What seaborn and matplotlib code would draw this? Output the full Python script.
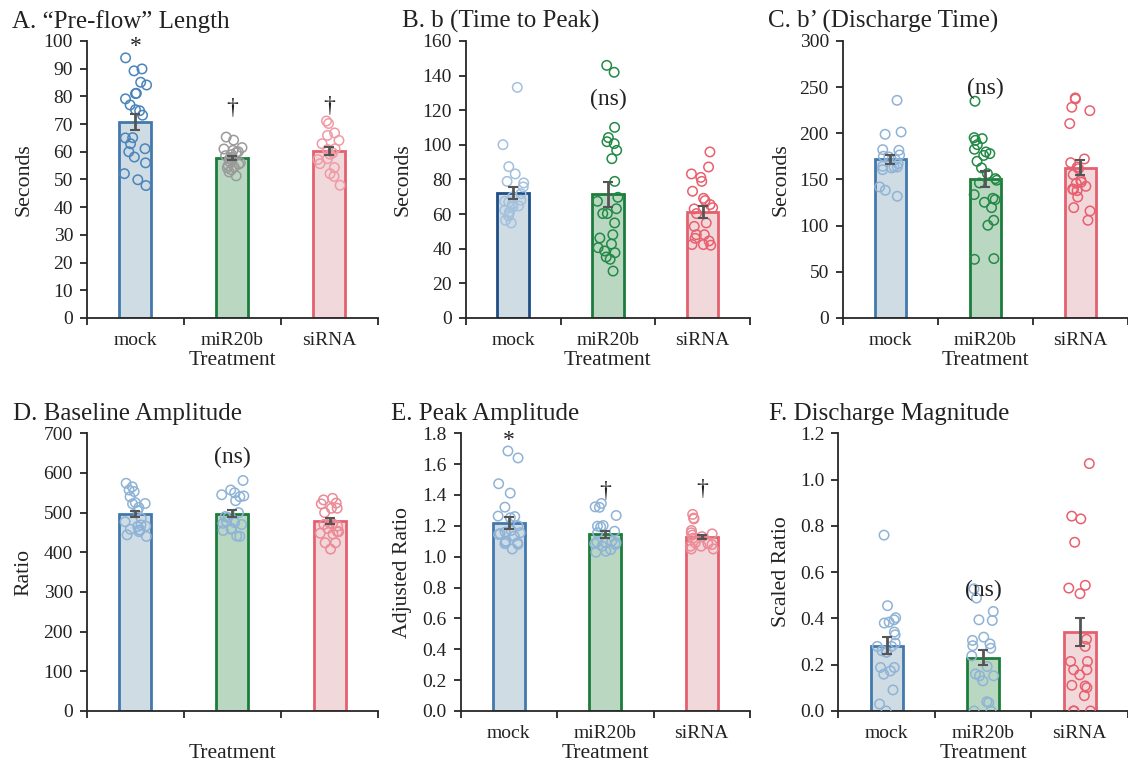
import numpy as np
import pandas as pd
import seaborn as sns
import matplotlib.pyplot as plt

groups = ['mock', 'miR20b', 'siRNA']

# A. "Pre-flow" length (seconds)
a_mock = [93.9, 89.9, 89.2, 85.1, 84.1, 81.1, 81.0, 79.1, 76.9, 75.2, 74.8, 73.2,
          65.1, 65.0, 62.9, 61.1, 60.0, 58.1, 56.0, 52.1, 49.9, 47.8]
a_mir = [65.3, 64.2, 61.5, 61.0, 60.5, 60.0, 59.8, 59.0, 58.6, 58.0, 57.5, 57.0,
         56.5, 56.0, 55.5, 55.0, 54.5, 54.2, 53.5, 52.7, 51.3]
a_sirna = [71.1, 70.2, 66.8, 65.9, 64.1, 62.9, 61.1, 60.8, 60.5, 59.6, 59.1, 57.5,
           57.2, 55.7, 54.3, 52.1, 51.1, 47.9]
a_mean = [70.8, 57.8, 60.3]
a_se = [2.8, 0.8, 1.3]

# B. b (time to peak)
b_mock = [133.2, 100.1, 87.4, 83.2, 78.9, 78.0, 75.7, 71.8, 69.9, 68.0, 67.4, 67.0,
          66.0, 64.7, 64.1, 62.2, 61.4, 60.3, 58.9, 56.4, 54.9]
b_mir = [145.9, 141.9, 110.1, 104.2, 101.8, 100.7, 96.8, 92.0, 78.9, 69.7, 67.4, 63.1,
         60.3, 60.3, 54.9, 48.1, 46.2, 42.7, 40.6, 38.7, 37.7, 35.2, 33.9, 27.1]
b_sirna = [95.9, 87.2, 83.2, 81.2, 78.9, 73.2, 69.1, 67.8, 65.5, 63.7, 63.0, 60.3,
           54.9, 52.9, 48.1, 48.1, 46.0, 44.5, 42.0, 42.4, 42.4]
b_mean = [72.2, 71.4, 61.4]
b_se = [3.7, 7.4, 3.4]

# C. b' (discharge time)
c_mock = [235.7, 201.4, 198.9, 182.3, 181.6, 176.5, 175.1, 174.4, 171.5, 167.1, 164.3,
          163.5, 163.5, 162.5, 160.6, 141.9, 138.3, 131.8]
c_mir = [234.7, 195.3, 194.2, 192.4, 187.7, 182.7, 179.8, 178.0, 176.0, 169.7, 162.5,
         156.3, 150.9, 149.1, 146.2, 133.6, 129.6, 128.2, 125.3, 119.5, 105.8, 100.4,
         64.3, 63.5]
c_sirna = [238.3, 237.2, 228.2, 224.5, 210.5, 172.2, 168.2, 163.5, 161.7, 155.2, 149.1,
           147.0, 145.8, 142.6, 139.7, 139.0, 137.9, 131.0, 119.5, 115.9, 105.8]
c_mean = [171.8, 150.2, 162.8]
c_se = [5.2, 8.8, 8.3]

# D. baseline amplitude (ratio)
d_mock = [574, 565, 557, 553, 540, 525, 523, 522, 513, 505, 486, 477, 469, 466, 465,
          458, 456, 456, 452, 444, 440]
d_mir = [581, 557, 550, 545, 542, 540, 530, 500, 490, 488, 477, 475, 473, 470, 460,
         458, 455, 441, 440]
d_sirna = [536, 532, 524, 522, 511, 511, 500, 473, 472, 470, 466, 460, 452, 452, 448,
           446, 424, 424, 408]
d_mean = [497, 497, 479]
d_se = [8, 9, 8]

# E. peak amplitude (adjusted ratio)
e_mock = [1.685, 1.64, 1.473, 1.412, 1.321, 1.263, 1.26, 1.252, 1.20, 1.17, 1.159,
          1.155, 1.15, 1.144, 1.133, 1.10, 1.094, 1.09, 1.085, 1.08, 1.05]
e_mir = [1.345, 1.323, 1.32, 1.267, 1.202, 1.198, 1.193, 1.165, 1.155, 1.10, 1.094,
         1.09, 1.09, 1.085, 1.079, 1.068, 1.046, 1.035, 1.029]
e_sirna = [1.274, 1.25, 1.245, 1.17, 1.155, 1.148, 1.14, 1.13, 1.12, 1.09, 1.085,
           1.079, 1.068, 1.068, 1.05, 1.05]
e_mean = [1.219, 1.144, 1.126]
e_se = [0.04, 0.024, 0.012]

# F. discharge magnitude (scaled ratio)
f_mock = [0.760, 0.455, 0.403, 0.394, 0.384, 0.38, 0.341, 0.329, 0.293, 0.279, 0.279,
          0.26, 0.254, 0.254, 0.188, 0.188, 0.173, 0.159, 0.091, 0.030, 0.0]
f_mir = [0.528, 0.488, 0.43, 0.394, 0.391, 0.319, 0.305, 0.29, 0.282, 0.271, 0.238,
         0.192, 0.16, 0.152, 0.152, 0.130, 0.040, 0.036, 0.0, 0.0]
f_sirna = [1.069, 0.842, 0.830, 0.729, 0.543, 0.531, 0.507, 0.310, 0.279, 0.214, 0.214,
           0.178, 0.178, 0.156, 0.111, 0.108, 0.101, 0.066, 0.0, 0.0, 0.0]
f_mean = [0.282, 0.231, 0.341]
f_se = [0.036, 0.032, 0.061]

sns.set_style('ticks')
plt.rcParams['font.family'] = ['Liberation Serif', 'DejaVu Serif']

fill_colors = ['#ccdde6', '#b5dcc0', '#f5d4d8']
blue_edge = '#4279ad'
navy_edge = '#1f4e87'
green_edge = '#1c7d3b'
red_edge = '#e5606f'
lt_blue = '#8fb3d6'
pale_blue = '#a3c0dd'
green_pt = '#238a45'
red_pt = '#e8606e'
pink_pt = '#f09aa6'

panels = [
    dict(title='A. \u201cPre-flow\u201d Length', ylabel='Seconds', data=[a_mock, a_mir, a_sirna],
         mean=a_mean, se=a_se, ymax=100, step=10, fmt='%d',
         pts=['#4a84bb', '#9a9a9a', pink_pt], edges=[blue_edge, green_edge, red_edge],
         pos=[0.0771, 0.5838, 0.2580, 0.3626], tx=-0.258, ylx=-0.215, ticks=True,
         notes=[(0, 98, '*'), (1, 75.5, '\u2020'), (2, 76.5, '\u2020')]),
    dict(title='B. b (Time to Peak)', ylabel='Seconds', data=[b_mock, b_mir, b_sirna],
         mean=b_mean, se=b_se, ymax=160, step=20, fmt='%d',
         pts=[pale_blue, green_pt, red_pt], edges=[navy_edge, green_edge, red_edge],
         pos=[0.4129, 0.5838, 0.2520, 0.3626], tx=-0.224, ylx=-0.22, ticks=True,
         notes=[(1, 126, '(ns)')]),
    dict(title='C. b\u2019 (Discharge Time)', ylabel='Seconds', data=[c_mock, c_mir, c_sirna],
         mean=c_mean, se=c_se, ymax=300, step=50, fmt='%d',
         pts=[lt_blue, green_pt, red_pt], edges=[blue_edge, green_edge, red_edge],
         pos=[0.7471, 0.5838, 0.2529, 0.3626], tx=-0.263, ylx=-0.215, ticks=True,
         notes=[(1, 249, '(ns)')]),
    dict(title='D. Baseline Amplitude', ylabel='Ratio', data=[d_mock, d_mir, d_sirna],
         mean=d_mean, se=d_se, ymax=700, step=100, fmt='%d',
         pts=[lt_blue, lt_blue, '#ec8a96'], edges=[blue_edge, green_edge, red_edge],
         pos=[0.0769, 0.0694, 0.2583, 0.3635], tx=-0.254, ylx=-0.215, ticks=False,
         notes=[(1, 640, '(ns)')]),
    dict(title='E. Peak Amplitude', ylabel='Adjusted Ratio', data=[e_mock, e_mir, e_sirna],
         mean=e_mean, se=e_se, ymax=1.8, step=0.2, fmt='%.1f',
         pts=[lt_blue, lt_blue, '#ec8a96'], edges=[blue_edge, green_edge, red_edge],
         pos=[0.4084, 0.0694, 0.2565, 0.3635], tx=-0.242, ylx=-0.2, ticks=True,
         notes=[(0, 1.75, '*'), (1, 1.42, '\u2020'), (2, 1.435, '\u2020')]),
    dict(title='F. Discharge Magnitude', ylabel='Scaled Ratio', data=[f_mock, f_mir, f_sirna],
         mean=f_mean, se=f_se, ymax=1.2, step=0.2, fmt='%.1f',
         pts=[lt_blue, lt_blue, red_pt], edges=[blue_edge, green_edge, red_edge],
         pos=[0.7432, 0.0694, 0.2568, 0.3635], tx=-0.241, ylx=-0.195, ticks=True,
         notes=[(1, 0.52, '(ns)')]),
]

np.random.seed(7)
fig = plt.figure(figsize=(11.28, 7.64), dpi=100)

for p in panels:
    ax = fig.add_axes(p['pos'])

    sns.barplot(x=groups, y=p['mean'], hue=groups, palette=fill_colors, order=groups,
                width=0.33, legend=False, ax=ax, zorder=1)
    for patch, ec in zip(ax.patches, p['edges']):
        patch.set_edgecolor(ec)
        patch.set_linewidth(2.0)

    df = pd.DataFrame({
        'Treatment': np.repeat(groups, [len(v) for v in p['data']]),
        'value': np.concatenate(p['data']),
    })
    n_before = len(ax.collections)
    sns.stripplot(data=df, x='Treatment', y='value', hue='Treatment', order=groups,
                  hue_order=groups, palette=p['pts'], jitter=0.12, size=6.8,
                  legend=False, ax=ax, zorder=3)
    for coll in ax.collections[n_before:]:
        fc = coll.get_facecolors()
        coll.set_edgecolors(fc)
        coll.set_facecolors('none')
        coll.set_linewidths(1.1)

    ax.errorbar([0, 1, 2], p['mean'], yerr=p['se'], fmt='none', ecolor='#555555',
                elinewidth=2, capsize=3.5, capthick=1.5, zorder=5)

    for i, y, s in p['notes']:
        ax.text(i, y, s, ha='center', va='center', fontsize=17, color='#222222', zorder=6)

    ax.set_xlim(-0.5, 2.5)
    ax.set_ylim(0, p['ymax'])
    ax.set_yticks(np.round(np.arange(0, p['ymax'] + p['step'] / 2, p['step']), 2))
    ax.yaxis.set_major_formatter(plt.FormatStrFormatter(p['fmt']))
    ax.set_xticks([-0.5, 0.5, 1.5, 2.5])
    ax.set_xticklabels([])
    ax.set_xticks([0, 1, 2], minor=True)
    ax.set_xticklabels(groups if p['ticks'] else ['', '', ''], minor=True)
    ax.tick_params(axis='x', which='major', length=5, width=1.3, color='#262626')
    ax.tick_params(axis='x', which='minor', length=0, pad=10, labelsize=14,
                   labelcolor='#222222')
    ax.tick_params(axis='y', length=5, width=1.3, color='#262626', pad=5,
                   labelsize=14, labelcolor='#222222')

    ax.set_xlabel('Treatment', fontsize=15.5, color='#222222')
    ax.xaxis.set_label_coords(0.5, -0.152)
    ax.xaxis.label.set_va('center')
    ax.set_ylabel(p['ylabel'], fontsize=15.7, color='#222222')
    ax.yaxis.set_label_coords(p['ylx'], 0.5)
    ax.yaxis.label.set_va('center')

    for side in ['top', 'right']:
        ax.spines[side].set_visible(False)
    for side in ['left', 'bottom']:
        ax.spines[side].set_color('#262626')
        ax.spines[side].set_linewidth(1.3)

    ax.text(p['tx'], 1.048, p['title'], transform=ax.transAxes, ha='left',
            va='baseline', fontsize=18, color='#222222')

fig.savefig('out.png', dpi=100)
